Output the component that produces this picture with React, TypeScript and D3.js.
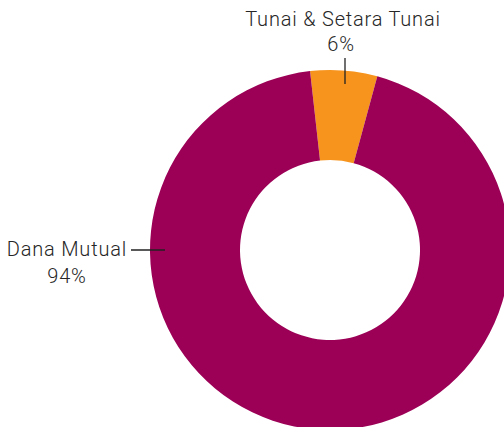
import React from "react";
import * as d3 from "d3";

const categories = ["Tunai & Setara Tunai", "Dana Mutual"];
const values = [6, 94];
const labels = ["6%", "94%"];
const colors = ["#F7941D", "#9B0056"];

const W = 504, H = 427;
const cx = 330, cy = 250, rOuter = 180, rInner = 90;

export default function App() {
  const pie = d3.pie<number>().sort(null).startAngle(-0.111).endAngle(2 * Math.PI - 0.111);
  const arcs = pie(values);
  const arc = d3.arc<d3.PieArcDatum<number>>().innerRadius(rInner).outerRadius(rOuter);
  const font = "Roboto, sans-serif";
  const fill = "#262626";
  const textStyle = { letterSpacing: "0.8px" };
  return (
    <svg width={W} height={H} style={{ position: "absolute", left: 0, top: 0 }}>
      <g transform={`translate(${cx},${cy})`}>
        {arcs.map((a, i) => (
          <path key={i} d={arc(a) || ""} fill={colors[i]} />
        ))}
      </g>
      {/* Top label */}
      <line x1={345} x2={345} y1={58} y2={84} stroke="#222" strokeWidth={1.3} />
      <text x={343} y={26} textAnchor="middle" fontFamily={font} fontWeight={300} fontSize={20} fill={fill} style={textStyle}>{categories[0]}</text>
      <text x={341} y={51} textAnchor="middle" fontFamily={font} fontWeight={300} fontSize={20} fill={fill} style={textStyle}>{labels[0]}</text>
      {/* Left label */}
      <line x1={131} x2={165} y1={250} y2={250} stroke="#222" strokeWidth={1.3} />
      <text x={127} y={256} textAnchor="end" fontFamily={font} fontWeight={300} fontSize={20} fill={fill} style={textStyle}>{categories[1]}</text>
      <text x={67} y={283} textAnchor="middle" fontFamily={font} fontWeight={300} fontSize={20} fill={fill} style={textStyle}>{labels[1]}</text>
    </svg>
  );
}
